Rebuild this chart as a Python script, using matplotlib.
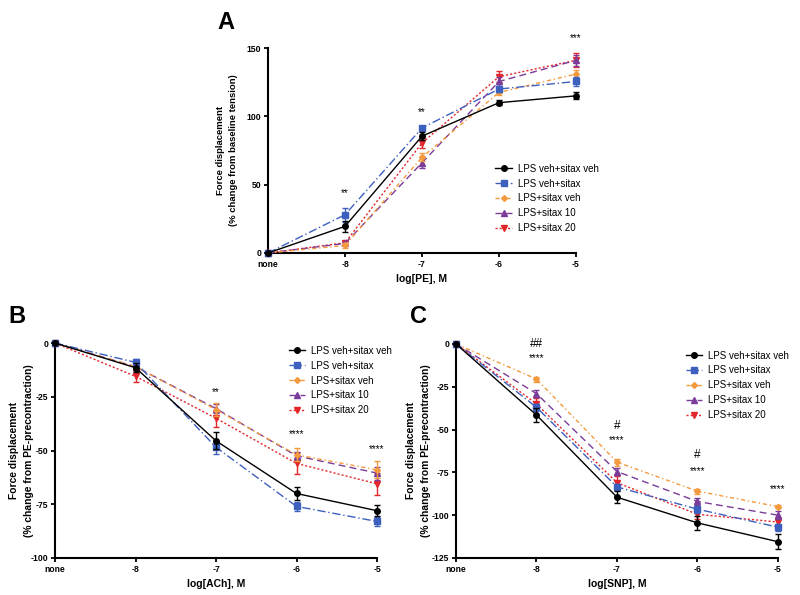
import numpy as np
import matplotlib
matplotlib.use("Agg")
import matplotlib.pyplot as plt

plt.rcParams['font.family'] = ['Liberation Sans', 'DejaVu Sans']
plt.rcParams['axes.unicode_minus'] = False

# x positions: none, -8, -7, -6, -5
xlabels = ['none', '-8', '-7', '-6', '-5']
groups = ['LPS veh+sitax veh', 'LPS veh+sitax', 'LPS+sitax veh', 'LPS+sitax 10', 'LPS+sitax 20']

# panel A - PE
pe_mean = [
    [0, 19.5, 85.5, 110, 115],
    [0, 28, 91.5, 120, 125.5],
    [0, 5.5, 70, 117.5, 131],
    [0, 7, 66, 125.5, 141],
    [0, 7.5, 80.5, 129, 141],
]
pe_err = [
    [0, 4, 3, 2, 2.5],
    [0, 5, 1.5, 2.5, 3],
    [0, 1.5, 3, 2, 3],
    [0, 1, 4, 3, 4],
    [0, 1, 4, 4, 5],
]
pe_marks = [(1, 44, '**'), (2, 103, '**'), (4, 157, '***')]

# panel B - ACh
ach_mean = [
    [0, -11.5, -45.5, -70, -78],
    [0, -9, -48.5, -76, -83],
    [0, -11, -31, -52, -59],
    [0, -11, -30.5, -52.5, -60.5],
    [0, -15.5, -35, -56, -65.5],
]
ach_err = [
    [0, 2, 4, 3, 2.5],
    [0, 1.5, 3, 2, 2],
    [0, 1, 3, 3, 4],
    [0, 1, 2, 2, 3],
    [0, 2.5, 4, 5, 5],
]
ach_marks = [(2, -23, '**'), (3, -42.5, '****'), (4, -49.5, '****')]

# panel C - SNP
snp_mean = [
    [0, -41.5, -89.5, -104.5, -115.5],
    [0, -37, -83.5, -96.5, -107],
    [0, -20.5, -69, -86, -95],
    [0, -29, -74.5, -92, -100],
    [0, -35, -81, -99.5, -104],
]
snp_err = [
    [0, 4, 3.5, 4, 4.5],
    [0, 2, 2, 2, 2],
    [0, 1.5, 2, 1.5, 1],
    [0, 2, 2, 2, 2.5],
    [0, 3.5, 4, 3, 2],
]
snp_marks = [(1, -8, '****'), (2, -56, '****'), (3, -74, '****'), (4, -84.5, '****')]
snp_hash = [(1, 0, '##'), (2, -48, '#'), (3, -65, '#')]

colors = ['black', '#3d5fbe', '#f39a3e', '#7b3c99', '#e3262b']
markers = ['o', 's', 'D', '^', 'v']
msizes = [4, 4.5, 3, 4, 4]
styles = ['-', (0, (6, 2, 1, 2)), (0, (3, 2, 1, 2)), (0, (5, 3)), (0, (1.5, 1.5))]


def draw_panel(ax, means, errs, ylim, yticks, xlab, ylab2, leg_anchor,
               tsize, lsize, lspace, lab_x):
    x = np.arange(len(xlabels))
    handles = []
    for i in range(len(groups)):
        c = ax.errorbar(x, means[i], yerr=errs[i], color=colors[i], marker=markers[i],
                        ms=msizes[i], ls=styles[i], lw=1.0, elinewidth=1.0, capsize=2.5,
                        capthick=1.0, clip_on=False, zorder=8 - i)
        handles.append(c.lines[0])
    ax.set_xlim(0, 4)
    ax.set_ylim(*ylim)
    ax.set_xticks(x)
    ax.set_xticklabels(xlabels)
    ax.set_yticks(yticks)
    ax.spines['top'].set_visible(False)
    ax.spines['right'].set_visible(False)
    for s in ['left', 'bottom']:
        ax.spines[s].set_linewidth(1.5)
    ax.tick_params(width=1.3, length=3, labelsize=tsize, pad=2)
    for lbl in ax.get_xticklabels() + ax.get_yticklabels():
        lbl.set_fontweight('bold')
    ax.set_xlabel(xlab, fontsize=7.5, fontweight='bold')
    ax.set_ylabel('Force displacement\n' + ylab2, fontsize=lsize, fontweight='bold',
                  linespacing=lspace)
    ax.yaxis.set_label_coords(lab_x, 0.5)
    ax.legend(handles, groups, loc='upper left', bbox_to_anchor=leg_anchor,
              bbox_transform=ax.figure.transFigure, frameon=False,
              fontsize=7.0, handlelength=1.7, handletextpad=0.6,
              labelspacing=0.5, borderpad=0)


fig = plt.figure(figsize=(8, 5.95), dpi=100)

axA = fig.add_axes([0.335, 0.5748, 0.385, 0.3445])
draw_panel(axA, pe_mean, pe_err, (0, 150), [0, 50, 100, 150], 'log[PE], M',
           '(% change from baseline tension)', (0.613, 0.733),
           6.2, 6.8, 1.55, -0.097)
for xi, yi, t in pe_marks:
    axA.text(xi, yi, t, ha='center', va='center', fontsize=7)

axB = fig.add_axes([0.06875, 0.0622, 0.4025, 0.3613])
draw_panel(axB, ach_mean, ach_err, (-100, 0), [0, -25, -50, -75, -100], 'log[ACh], M',
           '(% change from PE-precontraction)', (0.355, 0.427),
           6.2, 7.4, 1.65, -0.064)
for xi, yi, t in ach_marks:
    axB.text(xi, yi, t, ha='center', va='center', fontsize=7)

axC = fig.add_axes([0.57, 0.0622, 0.4025, 0.3597])
draw_panel(axC, snp_mean, snp_err, (-125, 0), [0, -25, -50, -75, -100, -125], 'log[SNP], M',
           '(% change from PE-precontraction)', (0.851, 0.419),
           6.2, 7.4, 1.6, -0.079)
for xi, yi, t in snp_marks:
    axC.text(xi, yi, t, ha='center', va='center', fontsize=7)
for xi, yi, t in snp_hash:
    axC.text(xi, yi, t, ha='center', va='center', fontsize=8.5)

fig.text(0.283, 0.962, 'A', fontsize=17, fontweight='bold', ha='center', va='center')
fig.text(0.021, 0.468, 'B', fontsize=17, fontweight='bold', ha='center', va='center')
fig.text(0.523, 0.468, 'C', fontsize=17, fontweight='bold', ha='center', va='center')

fig.savefig('out.png', dpi=100)
